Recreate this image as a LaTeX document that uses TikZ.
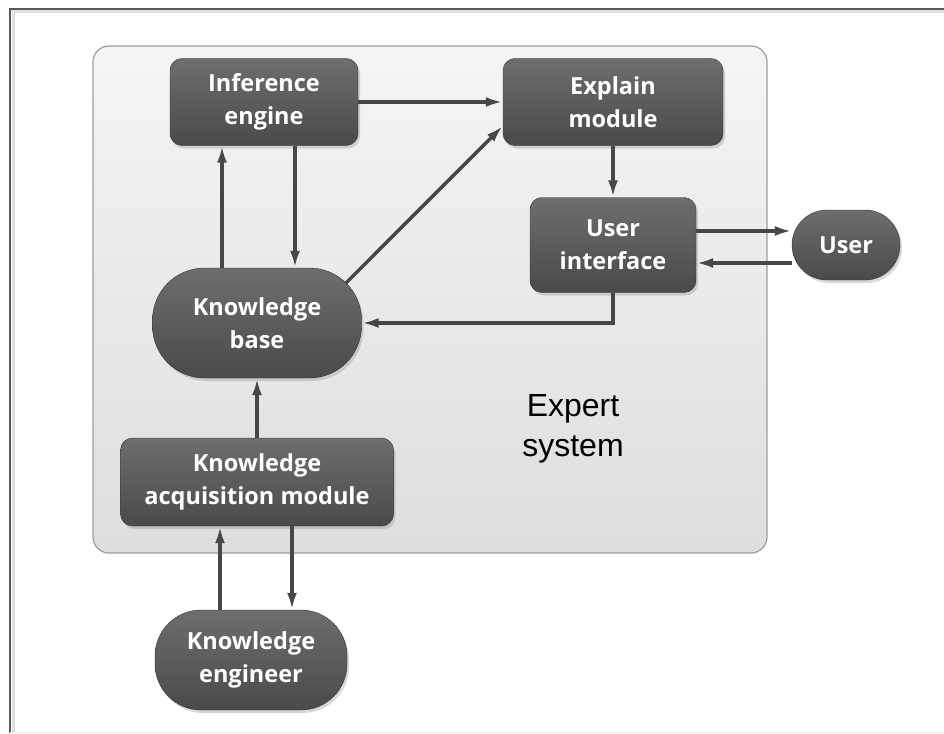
\documentclass[tikz,border=0pt]{standalone}
\usepackage{fontspec}
\setmainfont{Open Sans}
\newfontfamily\captionfont{Liberation Sans}
\usetikzlibrary{arrows.meta,shadows}

\begin{document}
\begin{tikzpicture}[x=1pt, y=-1pt,
    box/.style={draw=black!80, top color=black!57, bottom color=black!71,
        rounded corners=12pt, text=white, align=center, inner sep=0pt,
        font=\fontsize{23.5}{33}\selectfont\bfseries,
        drop shadow={opacity=0.3, shadow xshift=2pt, shadow yshift=-3pt}},
    arr/.style={draw=black!72, line width=3.5pt, -{Latex[length=17pt,width=10pt]}}]
    \useasboundingbox (0,0) rectangle (944,733);
    \fill[white] (0,0) rectangle (944,733);
    % frame
    \draw[black!12, line width=3pt] (944,12) -- (13,12) -- (13,733);
    \draw[black!65, line width=2pt] (944,9) -- (10,9) -- (10,733);
    \draw[black!8, line width=1pt] (10,732) -- (944,732);
    % expert system area
    \draw[draw=black!38, top color=black!4, bottom color=black!13,
        rounded corners=16pt, line width=1.2pt] (93,46) rectangle (767,553);
    \node[font=\captionfont\fontsize{32}{40}\selectfont, align=center] (lbl) at (573,429) {Expert\\system};

    \node[box, minimum width=188pt, minimum height=87pt] (ie) at (264,102) {Inference\\engine};
    \node[box, minimum width=220pt, minimum height=87pt] (em) at (613,102) {Explain\\module};
    \node[box, minimum width=166pt, minimum height=95pt] (ui) at (613,245) {User\\interface};
    \node[box, rounded corners=35pt, minimum width=108pt, minimum height=70pt] (us) at (846,245) {User};
    \node[box, rounded corners=52pt, minimum width=209pt, minimum height=110pt] (kb) at (257,323) {Knowledge\\base};
    \node[box, minimum width=273pt, minimum height=88pt] (kam) at (257,482) {Knowledge\\acquisition module};
    \node[box, rounded corners=46pt, minimum width=192pt, minimum height=100pt] (ke) at (251,660) {Knowledge\\engineer};

    \draw[arr] (ie.east) -- (em.west);
    \draw[arr] ([xshift=-42pt]ie.south |- kb.north) -- ([xshift=-42pt]ie.south);
    \draw[arr] ([xshift=31pt]ie.south) -- ([xshift=31pt]ie.south |- kb.north);
    \draw[arr] ([xshift=89pt,yshift=40pt]kb.center) -- ([yshift=-24pt]em.west);
    \draw[arr] (em.south) -- (ui.north);
    \draw[arr] ([yshift=14pt]ui.east) -- ([yshift=14pt]ui.east -| us.west);
    \draw[arr] ([yshift=-18pt]ui.east -| us.west) -- ([yshift=-18pt]ui.east);
    \draw[arr] (ui.south) |- (kb.east);
    \draw[arr] (kam.north) -- (kb.south);
    \draw[arr] ([xshift=-37pt]kam.south |- ke.north) -- ([xshift=-37pt]kam.south);
    \draw[arr] ([xshift=35pt]kam.south) -- ([xshift=35pt]kam.south |- ke.north);
\end{tikzpicture}
\end{document}
